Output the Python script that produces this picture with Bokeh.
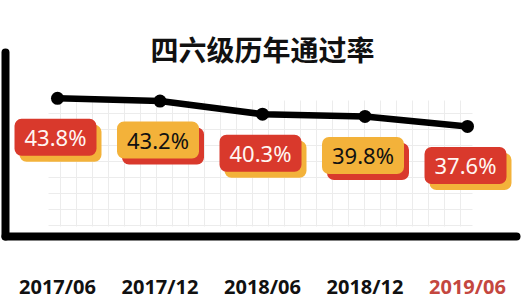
import numpy as np
from bokeh.plotting import figure
from bokeh.models import Range1d, ColumnDataSource
from bokeh.core.properties import value
from bokeh.embed import file_html
from bokeh.resources import INLINE

# ---- data ----
title_text = "四六级历年通过率"
periods = ["2017/06", "2017/12", "2018/06", "2018/12", "2019/06"]
rates = [43.8, 43.2, 40.3, 39.8, 37.6]
rate_labels = [f"{r:.1f}%" for r in rates]

# ---- layout helpers ----
W, H = 523, 307
X0, DX = 57.0, 102.5          # pixel x of first category, spacing per category
Y_TOP, Y_BOT = 65.4, -2.37    # value range covering the canvas height
UPP = (Y_TOP - Y_BOT) / H     # value units per pixel


def px_x(px):
    return (px - X0) / DX


def px_y(py):
    return Y_TOP - py * UPP


RED = "#d9392c"
ORANGE = "#f3b23a"

p = figure(width=W, height=H, x_range=Range1d(px_x(0), px_x(W)),
           y_range=Range1d(Y_BOT, Y_TOP), output_backend="svg",
           toolbar_location=None, min_border=0,
           x_axis_location=None, y_axis_location=None)
p.grid.visible = False
p.outline_line_color = None
p.background_fill_color = "white"
p.border_fill_color = "white"

# ---- faint background grid ----
gx = np.arange(60, 472, 16)
p.segment(x0=[px_x(v) for v in gx], y0=px_y(100), x1=[px_x(v) for v in gx], y1=px_y(226),
          line_color="#ececec", line_width=1)
gy = np.arange(113, 227, 16)
p.segment(x0=px_x(48), y0=[px_y(v) for v in gy], x1=px_x(472), y1=[px_y(v) for v in gy],
          line_color="#ececec", line_width=1)

# ---- frame lines ----
p.segment(x0=[px_x(5), px_x(5)], y0=[px_y(52), px_y(236)],
          x1=[px_x(5), px_x(516)], y1=[px_y(236), px_y(236)],
          line_color="black", line_width=8, line_cap="round")

# ---- line with points ----
xs = list(range(len(periods)))
p.line(xs, rates, line_color="black", line_width=6.5, line_join="round")
p.scatter(xs, rates, size=13, fill_color="black", line_color=None)

# ---- badges ----
face_colors = [RED if i % 2 == 0 else ORANGE for i in xs]
shadow_colors = [ORANGE if i % 2 == 0 else RED for i in xs]
text_colors = ["#fff6f2" if i % 2 == 0 else "#111111" for i in xs]
bx = [i - 2 / DX for i in xs]
by = [r - 39 * UPP for r in rates]
src = ColumnDataSource(dict(
    x=bx, y=by, sx=[v + 5 / DX for v in bx], sy=[v - 6 * UPP for v in by],
    face=face_colors, shadow=shadow_colors, tc=text_colors, label=rate_labels))
p.rect(x="sx", y="sy", width=82, height=37, width_units="screen", height_units="screen",
       fill_color="shadow", line_color=None, border_radius=7, source=src)
p.rect(x="x", y="y", width=82, height=37, width_units="screen", height_units="screen",
       fill_color="face", line_color=None, border_radius=7, source=src)
p.text(x="x", y="y", text="label", text_color="tc", text_font=value("Noto Sans"),
       text_font_size="22px", text_align="center", text_baseline="middle", source=src)

# ---- category labels ----
cat_colors = ["#111111"] * (len(periods) - 1) + ["#c4473f"]
p.text(x=xs, y=[px_y(286)] * len(xs), text=periods, text_color=cat_colors,
       text_font=value("Noto Sans"), text_font_style="bold", text_font_size="20px",
       text_align="center", text_baseline="middle")

# ---- title ----
p.text(x=[px_x(262)], y=[px_y(48)], text=[title_text], text_color="#111111",
       text_font=value("Noto Sans CJK SC"), text_font_style="bold", text_font_size="28px",
       text_align="center", text_baseline="middle")

open("out.html", "w").write(file_html(p, INLINE))
